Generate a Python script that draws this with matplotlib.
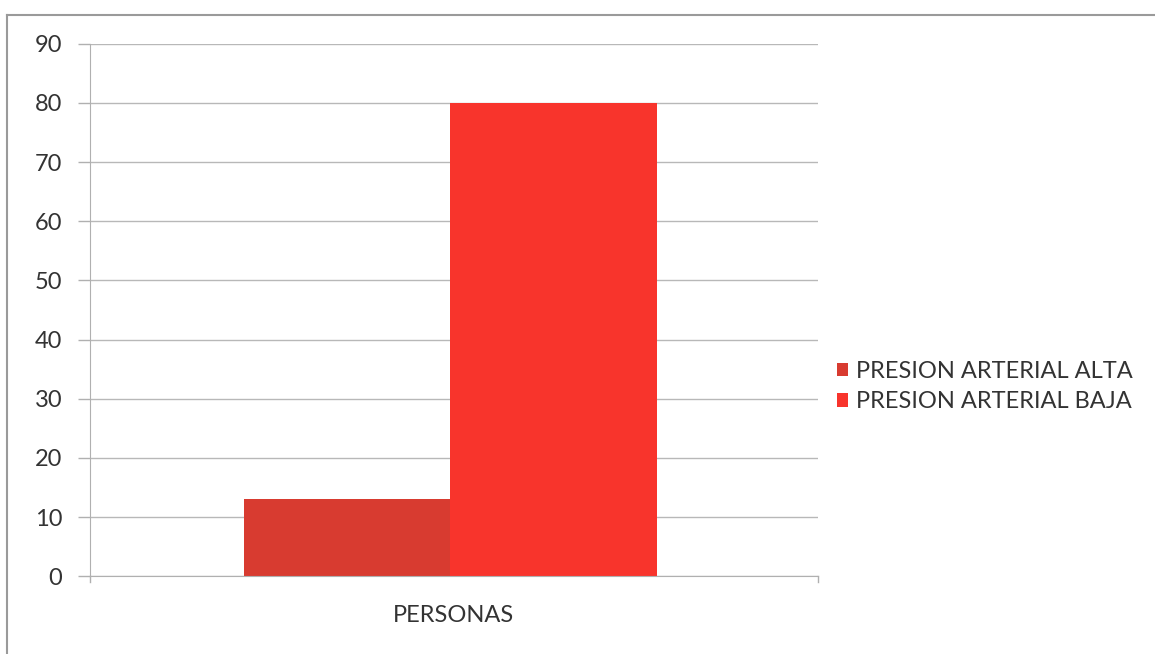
import matplotlib
matplotlib.use("Agg")
import matplotlib.pyplot as plt
from matplotlib.patches import Patch
from matplotlib.lines import Line2D

plt.rcParams['font.family'] = ['Lato', 'DejaVu Sans']

category = "PERSONAS"
series = ["PRESION ARTERIAL ALTA", "PRESION ARTERIAL BAJA"]
values = [13, 80]
colors = ["#d83b30", "#f8342c"]
yticks = [0, 10, 20, 30, 40, 50, 60, 70, 80, 90]

fig = plt.figure(figsize=(11.55, 6.54), dpi=100)
ax = fig.add_axes([0.078, 0.119, 0.630, 0.814])

width = 0.284
shift = -0.005
offsets = [shift - width / 2, shift + width / 2]
for off, v, c in zip(offsets, values, colors):
    ax.bar(off, v, width=width, color=c, zorder=2)

ax.set_xlim(-0.5, 0.5)
ax.set_ylim(0, 90)
ax.set_yticks(yticks)
ax.set_yticklabels([str(t) for t in yticks], fontsize=17, color="#333333")
ax.set_xticks([0])
ax.set_xticklabels([category], fontsize=17, color="#333333")
ax.tick_params(axis='x', length=0, pad=21)
ax.tick_params(axis='y', length=9, color="#b0b0b0", width=1, pad=11)
ax.grid(axis='y', color="#b8b8b8", linewidth=1, zorder=0)
for s in ['top', 'right']:
    ax.spines[s].set_visible(False)
ax.spines['left'].set_color("#b0b0b0")
ax.spines['bottom'].set_color("#b0b0b0")
# small end ticks on the x axis
for xe in [-0.5, 0.5]:
    ax.plot([xe, xe], [0, -1.0], color="#b0b0b0", lw=1, clip_on=False)

handles = [Patch(facecolor=c) for c in colors]
fig.legend(handles, series, loc='center left', bbox_to_anchor=(0.706, 0.409),
           frameon=False, fontsize=17, handlelength=0.5, handleheight=0.5,
           handletextpad=0.3, labelspacing=0.4, labelcolor="#333333")

# outer frame of the chart area
fig.add_artist(Line2D([0.006, 0.006], [0.0, 0.977], color="#9a9a9a", lw=1.5))
fig.add_artist(Line2D([0.006, 1.0], [0.977, 0.977], color="#9a9a9a", lw=1.5))

fig.savefig("out.png", dpi=100)
